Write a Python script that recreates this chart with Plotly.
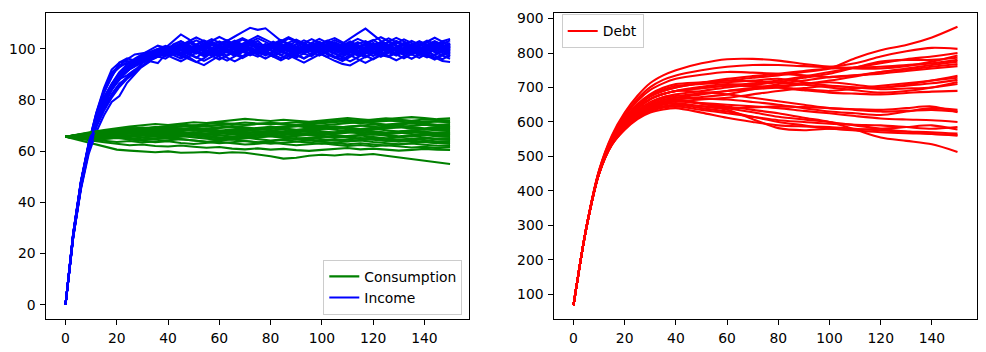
import plotly.graph_objects as go

# ---------------- data ----------------
t_income = list(range(0, 151, 3))          # 51 points
t_consumption = list(range(0, 151, 5))     # 31 points
t_debt = [0, 5, 10, 15, 20, 25, 30, 35, 40, 50, 60, 70, 80, 90, 100, 110, 120, 130, 140, 150]

x_ticks = [0, 20, 40, 60, 80, 100, 120, 140]
y_ticks_left = [0, 20, 40, 60, 80, 100]
y_ticks_right = [100, 200, 300, 400, 500, 600, 700, 800, 900]

income = [
    [0, 27.8, 48.1, 62.0, 73.5, 81.2, 86.0, 90.5, 91.8, 95.1, 97.4, 96.2, 99.0, 98.1, 100.3,
     101.2, 99.4, 98.1, 100.6, 102.3, 101.0, 99.2, 97.8, 99.5, 101.7, 103.1, 100.4, 98.9, 99.8, 101.5, 100.2, 98.0, 97.1,
     99.3, 100.9, 102.4, 101.1, 99.6, 98.4, 100.0, 101.8, 100.5, 98.7, 99.9, 102.1, 100.8, 99.0, 97.9, 99.6, 101.3, 100.4],
    [0, 26.5, 45.8, 60.2, 70.9, 78.1, 84.2, 88.0, 91.5, 93.0, 94.9, 97.3, 96.8, 99.5, 100.9,
     99.7, 97.9, 96.5, 98.8, 100.1, 102.0, 103.4, 101.2, 99.8, 98.1, 96.9, 98.5, 100.7, 101.9, 100.3, 98.6, 99.4, 101.6,
     102.8, 101.0, 99.1, 97.6, 98.9, 100.6, 102.2, 103.5, 101.4, 99.6, 98.2, 99.7, 101.9, 100.6, 98.8, 97.5, 98.9, 100.2],
    [0, 27.4, 47.6, 62.5, 74.5, 83.5, 90.8, 93.2, 95.9, 97.8, 98.4, 98.7, 99.9, 98.6, 101.7,
     103.0, 101.4, 99.8, 100.9, 102.6, 101.3, 103.2, 104.8, 106.5, 108.2, 107.4, 108.0, 105.6, 103.1, 101.8, 100.2, 99.1, 100.8,
     102.3, 101.0, 99.4, 98.6, 100.3, 101.9, 103.0, 101.5, 99.9, 98.4, 100.1, 101.6, 100.2, 98.7, 99.8, 101.4, 100.0, 98.9],
    [0, 26.2, 45.1, 58.8, 67.5, 74.0, 79.2, 81.5, 86.7, 90.2, 93.4, 95.7, 97.0, 96.2, 98.1,
     97.4, 96.0, 94.8, 96.3, 98.5, 97.6, 99.3, 100.8, 99.1, 97.7, 98.9, 100.6, 99.2, 97.4, 96.1, 97.8, 99.5, 101.2,
     100.0, 98.3, 97.0, 95.9, 97.5, 99.1, 100.4, 99.0, 97.6, 96.8, 98.5, 100.1, 99.3, 97.9, 96.6, 97.8, 99.4, 98.2],
    [0, 27.9, 47.9, 62.8, 75.0, 84.6, 91.9, 94.6, 95.2, 94.9, 97.1, 98.4, 97.2, 99.6, 98.9,
     100.8, 102.7, 101.1, 99.3, 97.9, 99.2, 100.9, 102.5, 101.3, 99.7, 98.2, 99.9, 101.6, 103.0, 101.8, 100.1, 98.7, 99.6,
     101.3, 103.1, 104.2, 102.5, 100.8, 99.4, 98.0, 99.5, 101.1, 102.6, 101.2, 99.5, 98.1, 99.7, 101.4, 102.8, 101.5, 100.3],
    [0, 26.8, 46.2, 60.9, 71.0, 78.8, 84.1, 88.6, 91.2, 93.8, 95.1, 95.9, 98.2, 97.4, 99.3,
     98.0, 99.6, 101.2, 100.0, 98.3, 96.9, 95.4, 97.1, 98.8, 100.4, 99.1, 97.6, 98.9, 100.6, 102.1, 100.7, 99.2, 97.8,
     99.4, 101.0, 100.1, 98.5, 97.2, 98.7, 100.3, 99.0, 97.7, 99.2, 100.8, 102.3, 101.0, 99.5, 98.2, 99.8, 101.4, 99.7],
    [0, 27.3, 47.2, 61.7, 72.6, 80.9, 86.3, 90.9, 93.8, 96.2, 97.9, 99.5, 101.2, 100.4, 103.1,
     105.6, 103.8, 101.5, 99.7, 101.2, 102.9, 101.4, 99.9, 101.6, 103.3, 102.0, 100.4, 99.0, 100.7, 102.4, 103.6, 102.1, 100.5,
     99.1, 100.6, 102.2, 101.0, 99.3, 97.9, 99.6, 101.3, 102.7, 101.3, 99.8, 98.4, 100.0, 101.7, 103.2, 101.9, 100.4, 102.1],
    [0, 26.9, 46.5, 60.7, 71.2, 78.5, 84.6, 88.2, 89.6, 91.8, 93.0, 95.1, 94.4, 97.8, 96.4,
     95.1, 96.8, 94.9, 93.6, 95.5, 97.3, 98.9, 97.4, 99.1, 100.6, 99.0, 97.3, 98.8, 100.4, 99.1, 97.6, 96.3, 97.9,
     99.5, 98.0, 96.6, 95.2, 96.9, 98.5, 100.2, 98.7, 97.4, 98.9, 100.5, 99.2, 97.7, 96.5, 98.1, 99.7, 98.4, 97.0],
    [0, 27.5, 47.5, 61.9, 72.1, 79.8, 85.8, 89.9, 92.6, 94.7, 96.5, 97.6, 98.9, 99.8, 99.2,
     100.4, 101.9, 103.3, 102.0, 100.2, 98.8, 100.5, 102.1, 103.6, 102.2, 100.6, 99.1, 100.7, 102.5, 104.0, 102.7, 101.0, 99.6,
     101.2, 102.8, 101.5, 99.8, 98.5, 100.1, 101.7, 103.2, 104.5, 102.9, 101.3, 99.9, 101.5, 103.0, 101.6, 100.1, 101.8, 103.3],
    [0, 27.0, 46.6, 61.0, 71.5, 79.0, 84.5, 88.8, 91.9, 93.6, 95.5, 96.7, 97.9, 97.1, 98.5,
     99.8, 98.4, 100.0, 101.6, 100.2, 98.6, 97.3, 98.9, 100.5, 99.1, 97.6, 96.2, 97.8, 99.4, 101.0, 99.6, 98.1, 99.7,
     98.2, 96.8, 95.3, 94.1, 93.5, 95.2, 97.0, 98.6, 100.1, 98.7, 97.3, 98.9, 100.6, 99.1, 97.6, 96.3, 97.9, 99.5],
    [0, 28.1, 48.4, 63.1, 74.8, 83.9, 89.2, 93.6, 94.1, 95.5, 96.9, 98.0, 99.6, 100.7, 99.5,
     98.2, 99.8, 101.5, 103.0, 101.7, 100.0, 98.5, 100.1, 101.8, 100.3, 98.7, 100.3, 102.0, 100.5, 98.9, 97.5, 99.1, 100.8,
     102.4, 101.0, 99.5, 101.2, 102.9, 101.4, 99.8, 98.3, 99.9, 101.6, 103.1, 101.7, 100.2, 98.8, 100.4, 102.0, 100.6, 101.9],
    [0, 26.7, 46.0, 60.4, 70.6, 78.3, 83.8, 88.3, 91.0, 93.9, 95.0, 96.6, 97.5, 98.9, 97.9,
     99.3, 100.9, 99.4, 97.9, 99.5, 101.1, 102.6, 101.2, 99.6, 98.1, 99.7, 101.4, 100.0, 98.5, 100.2, 101.8, 103.3, 101.9,
     100.4, 101.9, 103.4, 102.0, 104.1, 106.0, 107.9, 105.4, 103.1, 101.5, 100.0, 101.6, 103.1, 101.7, 100.2, 98.7, 100.3, 101.8],
    [0, 27.6, 47.4, 61.6, 72.3, 80.1, 85.6, 89.6, 92.4, 94.5, 96.1, 97.2, 98.4, 99.1, 98.4,
     97.1, 98.7, 100.3, 98.8, 97.2, 95.8, 97.4, 99.0, 100.6, 102.1, 100.7, 99.2, 97.7, 96.3, 97.9, 99.6, 101.2, 99.8,
     98.3, 96.9, 98.5, 100.2, 101.8, 100.3, 98.7, 97.2, 98.8, 100.4, 99.0, 97.5, 96.1, 97.7, 99.3, 100.9, 99.5, 98.0],
    [0, 26.4, 45.5, 59.7, 69.4, 75.8, 80.9, 85.1, 88.3, 90.6, 93.4, 95.4, 96.9, 98.3, 99.7,
     101.0, 102.5, 101.0, 99.4, 98.0, 99.6, 101.3, 102.8, 104.2, 102.8, 101.3, 99.8, 101.4, 103.0, 104.5, 103.1, 101.6, 100.1,
     101.7, 103.2, 101.8, 100.3, 98.8, 100.4, 102.0, 100.5, 99.0, 100.6, 102.2, 103.7, 102.3, 100.8, 99.3, 100.9, 102.5, 101.0],
    [0, 27.2, 47.0, 61.4, 71.6, 79.6, 85.3, 89.3, 91.6, 94.0, 95.6, 97.0, 98.0, 98.7, 100.1,
     101.6, 100.1, 98.6, 97.1, 98.7, 100.3, 101.9, 100.4, 98.9, 97.4, 98.9, 100.5, 102.1, 100.6, 99.1, 97.6, 96.2, 97.8,
     99.4, 101.0, 102.6, 101.1, 99.6, 98.1, 96.7, 98.2, 99.8, 101.4, 100.0, 98.5, 100.1, 101.7, 100.3, 98.8, 97.4, 99.0],
    [0, 27.7, 47.8, 62.3, 73.0, 80.3, 86.1, 90.0, 93.1, 95.3, 96.0, 98.1, 99.3, 100.0, 99.0,
     100.6, 99.1, 100.7, 102.3, 103.8, 102.4, 100.9, 99.4, 101.0, 102.6, 104.1, 102.7, 101.2, 99.7, 101.3, 102.9, 101.5, 100.0,
     98.5, 100.1, 101.7, 100.2, 98.7, 97.3, 98.9, 100.5, 102.1, 100.7, 99.2, 97.8, 99.4, 101.0, 102.5, 101.1, 99.6, 101.2],
    [0, 26.6, 46.3, 60.6, 71.1, 78.9, 84.8, 88.9, 91.4, 93.4, 95.3, 96.4, 97.3, 98.5, 99.6,
     98.3, 96.9, 98.4, 100.0, 101.6, 100.1, 98.6, 97.2, 98.8, 100.4, 102.0, 100.5, 99.0, 97.5, 99.1, 100.7, 102.3, 100.9,
     99.4, 97.9, 96.5, 98.1, 99.7, 101.3, 99.8, 98.3, 96.9, 98.5, 100.1, 101.6, 100.1, 98.6, 97.1, 95.8, 97.4, 96.1],
    [0, 27.4, 47.3, 61.8, 72.4, 80.4, 86.0, 89.7, 92.8, 95.0, 96.7, 97.8, 98.6, 100.2, 101.3,
     102.9, 101.4, 99.9, 101.5, 103.1, 104.6, 103.2, 101.7, 100.2, 101.8, 100.3, 98.8, 100.4, 102.0, 100.6, 99.1, 100.7, 102.3,
     103.9, 102.4, 100.9, 99.4, 101.0, 102.6, 101.1, 99.7, 101.3, 102.8, 104.3, 102.9, 101.4, 99.9, 101.5, 103.0, 101.6, 100.1],
    [0, 26.3, 45.9, 60.1, 69.8, 76.4, 81.7, 85.9, 89.0, 91.5, 94.4, 96.3, 97.1, 97.9, 98.1,
     99.6, 98.1, 96.7, 95.3, 96.9, 98.5, 100.1, 98.6, 97.1, 98.7, 100.3, 101.9, 100.4, 98.9, 97.4, 96.0, 94.6, 96.2,
     97.8, 99.4, 98.0, 96.5, 95.1, 96.7, 98.3, 99.9, 98.4, 96.9, 95.5, 97.1, 98.7, 100.3, 98.8, 97.3, 95.9, 97.5],
    [0, 27.9, 48.0, 62.6, 74.1, 83.0, 90.1, 92.7, 94.8, 95.6, 97.2, 98.5, 99.5, 98.3, 99.9,
     101.4, 103.0, 104.4, 103.0, 101.5, 100.0, 101.6, 103.2, 101.7, 100.2, 98.7, 100.3, 101.9, 103.5, 102.0, 100.5, 99.0, 100.6,
     102.2, 100.7, 99.2, 100.8, 102.4, 103.9, 102.5, 101.0, 99.5, 101.1, 102.7, 101.2, 99.7, 98.2, 99.8, 101.4, 103.0, 103.8],
    [0, 27.1, 46.8, 61.2, 71.9, 79.3, 84.9, 89.0, 92.2, 94.3, 95.9, 96.8, 97.6, 99.4, 98.7,
     97.3, 98.9, 100.5, 99.0, 97.5, 99.1, 100.7, 102.2, 100.7, 99.2, 97.8, 99.4, 101.0, 99.5, 98.0, 96.6, 98.2, 99.8,
     101.4, 99.9, 98.4, 96.9, 98.5, 100.1, 101.7, 100.2, 98.7, 97.2, 98.8, 100.4, 98.9, 97.4, 99.0, 100.6, 99.1, 97.6],
    [0, 26.9, 46.4, 60.8, 71.4, 78.7, 84.4, 88.4, 91.3, 93.7, 95.2, 96.5, 98.3, 99.2, 100.6,
     102.1, 100.6, 99.1, 97.6, 99.2, 100.8, 99.3, 97.8, 96.4, 98.0, 99.6, 101.2, 102.8, 101.3, 99.8, 98.3, 99.9, 101.5,
     100.0, 98.5, 100.1, 101.7, 100.2, 98.7, 97.3, 95.9, 97.5, 99.1, 100.7, 99.2, 97.7, 99.3, 100.9, 102.4, 100.9, 99.4],
    [0, 27.6, 47.7, 62.2, 73.9, 82.7, 88.9, 94.6, 96.3, 95.4, 97.6, 98.8, 100.1, 101.1, 100.0,
     98.5, 100.1, 101.7, 103.3, 101.8, 100.3, 98.8, 100.4, 102.0, 103.6, 105.0, 103.6, 102.1, 100.6, 99.1, 100.7, 102.3, 103.8,
     102.3, 100.8, 99.3, 100.9, 102.5, 101.0, 99.5, 101.1, 102.7, 104.1, 102.6, 101.1, 99.6, 101.2, 102.8, 104.3, 102.8, 102.0],
    [0, 26.8, 46.1, 60.5, 70.0, 77.1, 82.3, 86.4, 88.5, 90.8, 94.8, 96.1, 97.4, 98.0, 97.6,
     96.2, 97.8, 99.4, 101.0, 99.5, 98.0, 96.5, 95.1, 96.7, 98.3, 99.9, 98.4, 96.9, 95.5, 97.1, 98.7, 100.3, 98.8,
     97.3, 98.9, 100.5, 99.0, 97.5, 96.0, 94.5, 96.1, 97.7, 99.3, 97.8, 96.3, 97.9, 99.5, 98.0, 96.5, 95.2, 94.8],
    [0, 27.3, 47.1, 61.5, 72.0, 79.7, 85.4, 89.5, 92.3, 94.6, 96.3, 97.4, 98.6, 99.7, 101.0,
     99.5, 98.0, 99.6, 101.2, 102.8, 101.3, 99.8, 98.3, 99.9, 101.5, 100.0, 98.5, 97.0, 98.6, 100.2, 101.8, 100.3, 98.8,
     100.4, 102.0, 100.5, 99.0, 97.5, 99.1, 100.7, 102.3, 100.8, 99.3, 97.8, 99.4, 101.0, 102.6, 101.1, 99.6, 101.2, 100.5],
]

consumption = [
    [65.6, 64.4, 63.1, 62.0, 60.6, 60.2, 60.0, 59.6, 59.9, 59.4, 59.5, 59.7, 59.2, 59.6, 59.4, 58.8, 58.0, 57.1, 57.4, 58.2, 58.6, 58.3, 58.8, 58.5, 58.9, 58.2, 57.6, 57.0, 56.4, 55.7, 55.0],
    [65.6, 65.0, 64.2, 63.5, 62.9, 62.3, 62.6, 62.0, 61.8, 62.2, 61.7, 61.3, 61.6, 61.0, 60.7, 61.1, 60.6, 60.9, 60.4, 60.1, 60.5, 60.8, 61.2, 60.7, 61.0, 60.6, 60.2, 60.5, 60.9, 60.6, 60.5],
    [65.6, 65.9, 65.3, 64.8, 65.2, 64.6, 64.0, 63.5, 63.9, 63.2, 62.8, 63.3, 63.7, 63.1, 62.6, 62.9, 63.4, 62.8, 62.3, 62.7, 63.1, 62.5, 62.0, 62.4, 61.9, 62.3, 61.8, 61.4, 61.7, 61.2, 61.5],
    [65.6, 65.2, 64.7, 64.1, 63.6, 64.0, 63.4, 63.8, 64.3, 64.7, 64.2, 63.6, 63.1, 63.5, 64.0, 63.4, 62.9, 63.3, 63.8, 64.2, 63.7, 63.2, 62.7, 63.1, 62.6, 62.2, 62.6, 63.0, 62.5, 62.1, 62.0],
    [65.6, 66.1, 66.6, 66.0, 65.5, 65.9, 65.3, 64.8, 65.2, 64.7, 64.1, 63.7, 64.2, 64.6, 64.0, 63.5, 63.9, 64.4, 63.8, 63.3, 62.9, 63.4, 63.8, 64.2, 63.6, 63.1, 62.7, 63.2, 63.6, 63.1, 62.8],
    [65.6, 65.3, 65.8, 66.3, 65.7, 65.2, 64.6, 65.0, 65.5, 65.9, 65.4, 64.9, 64.4, 64.8, 65.3, 64.7, 64.2, 64.6, 65.1, 64.5, 64.0, 64.4, 63.9, 64.3, 64.8, 64.2, 63.7, 64.1, 63.6, 63.2, 63.5],
    [65.6, 66.2, 65.7, 65.1, 65.6, 66.0, 66.5, 66.0, 65.4, 65.8, 66.3, 65.7, 65.1, 64.6, 65.0, 65.5, 65.9, 65.3, 64.8, 65.2, 64.7, 64.2, 64.6, 65.1, 64.5, 64.0, 64.4, 64.9, 64.3, 63.8, 64.0],
    [65.6, 64.9, 64.5, 65.0, 65.4, 64.8, 64.3, 64.7, 65.2, 65.6, 66.1, 65.5, 65.0, 65.4, 65.9, 66.3, 65.8, 65.2, 64.7, 65.1, 65.6, 66.0, 65.4, 64.9, 65.3, 64.8, 64.3, 64.7, 65.1, 64.6, 64.5],
    [65.6, 66.0, 66.5, 67.0, 66.4, 66.9, 67.3, 66.8, 66.2, 66.7, 66.1, 65.6, 66.0, 66.5, 66.0, 65.4, 65.8, 66.3, 66.7, 66.2, 65.7, 65.2, 65.6, 66.1, 65.5, 65.0, 65.4, 65.9, 65.3, 64.8, 65.0],
    [65.6, 65.1, 65.5, 66.0, 66.4, 65.9, 65.4, 65.8, 66.3, 66.7, 67.2, 66.6, 66.1, 65.6, 66.0, 66.5, 66.0, 65.5, 65.9, 66.4, 66.8, 66.3, 65.7, 66.2, 66.6, 66.0, 65.5, 65.9, 66.3, 65.7, 65.5],
    [65.6, 66.3, 66.9, 66.4, 65.8, 66.2, 66.7, 67.1, 66.6, 66.0, 66.5, 66.9, 67.4, 66.8, 66.3, 66.7, 67.2, 66.6, 66.1, 66.5, 66.0, 65.5, 65.9, 66.4, 66.8, 66.3, 65.8, 66.2, 66.7, 66.2, 66.0],
    [65.6, 65.0, 65.4, 64.9, 65.3, 65.8, 66.2, 65.7, 66.1, 66.6, 67.0, 66.5, 67.0, 67.4, 66.9, 67.3, 67.8, 67.2, 66.7, 67.1, 66.6, 67.0, 67.5, 66.9, 66.4, 66.8, 67.3, 66.7, 66.2, 66.6, 66.4],
    [65.6, 66.4, 66.0, 66.5, 67.0, 67.5, 67.0, 66.4, 66.9, 67.3, 66.8, 66.2, 66.7, 67.1, 67.6, 67.0, 66.5, 66.9, 67.4, 67.8, 67.3, 66.7, 67.2, 67.6, 67.1, 66.6, 67.0, 67.5, 66.9, 66.5, 66.8],
    [65.6, 65.2, 65.7, 66.1, 65.6, 66.0, 66.5, 66.9, 67.4, 66.9, 67.3, 67.8, 67.2, 66.7, 67.1, 67.6, 68.0, 67.5, 67.9, 68.4, 67.8, 67.3, 67.7, 68.2, 67.6, 67.1, 67.5, 68.0, 67.4, 66.9, 67.2],
    [65.6, 66.1, 66.6, 67.1, 67.6, 67.1, 67.6, 68.0, 67.5, 67.0, 67.4, 66.9, 67.3, 67.8, 68.2, 67.7, 67.1, 67.6, 68.0, 67.5, 67.0, 67.4, 67.9, 68.3, 67.8, 67.3, 67.7, 68.2, 67.6, 67.2, 67.6],
    [65.6, 65.4, 65.9, 66.3, 66.8, 67.2, 66.7, 67.1, 67.6, 68.0, 68.5, 67.9, 67.4, 67.8, 68.3, 68.7, 68.2, 67.6, 68.1, 68.5, 69.0, 68.4, 67.9, 68.3, 68.8, 68.2, 67.7, 68.1, 68.6, 68.1, 68.0],
    [65.6, 66.0, 66.5, 67.0, 66.5, 67.0, 67.4, 67.9, 68.3, 67.8, 68.2, 68.7, 68.1, 67.6, 68.0, 68.5, 68.9, 68.4, 67.8, 68.3, 68.7, 69.2, 68.6, 68.1, 68.5, 69.0, 69.4, 68.9, 68.4, 68.8, 68.5],
    [65.6, 66.3, 66.9, 67.5, 68.0, 67.5, 68.0, 68.4, 67.9, 68.3, 68.8, 68.2, 67.7, 68.1, 68.6, 69.0, 69.5, 68.9, 68.4, 68.8, 69.3, 69.7, 69.2, 68.6, 69.1, 69.5, 70.0, 69.4, 68.9, 69.3, 69.0],
    [65.6, 65.8, 66.3, 66.8, 67.3, 67.8, 68.3, 67.8, 68.2, 68.7, 69.1, 68.6, 68.0, 68.5, 68.9, 68.4, 68.9, 69.3, 69.8, 69.2, 68.7, 69.1, 69.6, 70.0, 69.5, 69.0, 69.4, 69.9, 70.3, 69.8, 69.5],
    [65.6, 66.5, 67.2, 67.9, 68.4, 68.9, 68.3, 68.8, 69.2, 68.7, 68.1, 68.6, 69.0, 69.5, 68.9, 68.4, 68.8, 69.3, 69.7, 70.2, 69.6, 69.1, 69.5, 70.0, 70.4, 69.9, 70.4, 70.8, 70.3, 69.8, 70.0],
    [65.6, 65.9, 66.4, 66.0, 66.5, 67.0, 67.4, 67.9, 68.4, 68.9, 68.4, 68.8, 69.3, 69.8, 69.3, 68.8, 69.2, 69.7, 70.1, 69.6, 70.0, 70.5, 70.9, 71.4, 70.9, 70.4, 70.8, 71.3, 70.8, 70.3, 70.5],
    [65.6, 66.3, 67.0, 67.6, 68.2, 68.7, 69.2, 68.8, 69.3, 69.8, 69.4, 69.8, 70.3, 70.7, 70.2, 70.6, 71.0, 70.5, 70.0, 70.4, 70.9, 71.3, 71.8, 71.3, 71.7, 72.1, 71.6, 71.1, 71.5, 71.8, 71.0],
    [65.6, 66.5, 67.3, 67.0, 67.7, 68.3, 68.9, 69.4, 69.0, 69.6, 70.1, 69.7, 70.2, 70.6, 70.2, 70.7, 71.1, 70.7, 70.3, 70.8, 71.3, 71.7, 71.3, 70.9, 71.4, 71.8, 72.2, 71.7, 71.2, 71.6, 71.5],
    [65.6, 66.2, 67.0, 67.8, 68.5, 69.1, 68.7, 69.3, 69.9, 70.4, 70.0, 70.6, 71.1, 70.7, 71.2, 70.8, 70.4, 70.9, 71.4, 71.0, 71.5, 71.9, 72.3, 71.9, 72.4, 72.8, 72.3, 71.9, 72.4, 72.1, 72.0],
    [65.6, 66.6, 67.5, 68.3, 69.0, 69.6, 70.1, 70.6, 70.2, 70.8, 71.3, 71.0, 71.6, 72.1, 72.6, 72.2, 71.8, 72.3, 71.9, 71.5, 72.0, 72.4, 72.9, 72.5, 72.1, 72.6, 73.0, 73.3, 72.9, 72.5, 72.8],
]

debt = [
    [68, 293, 456, 551, 609, 652, 681, 699, 710, 715, 720, 728, 735, 745, 755, 785, 808, 823, 845, 876],
    [68, 293, 459, 557, 620, 667, 701, 722, 735, 750, 760, 765, 765, 762, 760, 770, 790, 805, 815, 812],
    [68, 292, 454, 546, 600, 639, 666, 681, 690, 698, 705, 712, 720, 732, 745, 758, 770, 782, 790, 800],
    [68, 293, 460, 561, 627, 676, 713, 735, 750, 770, 782, 783, 778, 768, 760, 755, 755, 762, 775, 793],
    [68, 292, 453, 543, 595, 633, 658, 672, 680, 690, 700, 708, 715, 728, 740, 758, 775, 780, 780, 786],
    [68, 292, 455, 548, 604, 645, 674, 690, 700, 713, 725, 733, 740, 748, 755, 758, 760, 765, 770, 780],
    [68, 292, 452, 542, 593, 630, 654, 668, 675, 683, 690, 695, 700, 710, 720, 732, 745, 755, 765, 775],
    [68, 293, 458, 554, 615, 661, 693, 712, 725, 737, 745, 743, 740, 735, 730, 735, 745, 752, 760, 768],
    [68, 292, 451, 539, 588, 624, 646, 658, 665, 672, 680, 695, 710, 720, 730, 735, 740, 748, 755, 762],
    [68, 292, 456, 549, 606, 649, 678, 694, 705, 710, 715, 720, 725, 715, 705, 700, 700, 708, 720, 734],
    [68, 292, 454, 546, 600, 639, 666, 681, 690, 698, 705, 703, 700, 695, 690, 697, 705, 712, 720, 728],
    [68, 292, 452, 540, 590, 627, 650, 663, 670, 680, 690, 698, 705, 710, 715, 708, 700, 705, 712, 722],
    [68, 292, 455, 548, 604, 645, 674, 690, 700, 712, 720, 718, 715, 708, 700, 692, 685, 690, 700, 716],
    [68, 292, 451, 538, 586, 621, 642, 654, 660, 665, 670, 680, 690, 698, 705, 700, 695, 697, 700, 710],
    [68, 292, 454, 546, 600, 639, 666, 681, 690, 702, 710, 705, 700, 692, 685, 682, 680, 684, 688, 690],
    [68, 292, 452, 540, 590, 627, 650, 663, 670, 668, 665, 658, 650, 640, 630, 625, 620, 630, 640, 635],
    [68, 291, 450, 535, 581, 614, 635, 645, 650, 646, 640, 642, 645, 643, 640, 635, 630, 632, 635, 630],
    [68, 292, 454, 546, 600, 639, 666, 681, 690, 687, 680, 670, 660, 650, 640, 637, 635, 640, 645, 628],
    [68, 292, 451, 538, 586, 621, 642, 654, 660, 655, 650, 645, 640, 632, 625, 617, 610, 607, 605, 600],
    [68, 291, 450, 534, 579, 611, 631, 641, 645, 635, 625, 615, 605, 600, 595, 592, 590, 585, 580, 585],
    [68, 291, 450, 535, 581, 614, 635, 645, 650, 640, 630, 615, 600, 590, 580, 578, 580, 585, 590, 578],
    [68, 291, 449, 533, 577, 608, 627, 636, 640, 627, 612, 600, 590, 587, 585, 580, 575, 572, 570, 566],
    [68, 292, 451, 539, 588, 624, 646, 658, 665, 653, 640, 628, 615, 607, 600, 590, 580, 572, 565, 562],
    [68, 292, 451, 537, 584, 618, 638, 650, 655, 645, 635, 608, 582, 576, 580, 575, 570, 567, 565, 560],
    [68, 292, 451, 538, 586, 621, 642, 654, 660, 653, 645, 635, 625, 612, 600, 578, 555, 545, 535, 513],
]

# ---------------- figure ----------------
W, H = 986, 352
LW = 2.08
FONT = dict(family="DejaVu Sans, Liberation Sans, sans-serif", size=13.9, color="black")

fig = go.Figure()

for i in range(len(income)):
    c = consumption[i]
    y = income[i]
    fig.add_trace(go.Scatter(
        x=t_consumption[:len(c)], y=c, mode="lines",
        line=dict(color="green", width=LW),
        name="Consumption", showlegend=(i == 0), legend="legend",
        xaxis="x", yaxis="y", hoverinfo="skip"))
    fig.add_trace(go.Scatter(
        x=t_income[:len(y)], y=y, mode="lines",
        line=dict(color="blue", width=LW),
        name="Income", showlegend=(i == 0), legend="legend",
        xaxis="x", yaxis="y", hoverinfo="skip"))

for i, d in enumerate(debt):
    fig.add_trace(go.Scatter(
        x=t_debt[:len(d)], y=d, mode="lines",
        line=dict(color="red", width=LW, shape="spline", smoothing=0.8),
        name="Debt", showlegend=(i == 0), legend="legend2",
        xaxis="x2", yaxis="y2", hoverinfo="skip"))

axis_common = dict(
    showline=True, linecolor="black", linewidth=1.1, mirror=True,
    ticks="outside", ticklen=4.9, tickwidth=1.1, tickcolor="black",
    showgrid=False, zeroline=False, tickfont=FONT, ticklabelstandoff=2,
)

y_top = 1 - 10.3 / H
y_bot = 1 - 318.3 / H

fig.update_layout(
    width=W, height=H,
    margin=dict(l=0, r=0, t=0, b=0),
    paper_bgcolor="white", plot_bgcolor="white",
    font=FONT,
    xaxis=dict(domain=[46.3 / W, 469.3 / W], range=[-7.5, 157.5],
               tickvals=x_ticks, anchor="y", **axis_common),
    yaxis=dict(domain=[y_bot, y_top], range=[-5.42, 113.9],
               tickvals=y_ticks_left, anchor="x", **axis_common),
    xaxis2=dict(domain=[554.3 / W, 976.7 / W], range=[-7.5, 157.5],
                tickvals=x_ticks, anchor="y2", **axis_common),
    yaxis2=dict(domain=[y_bot, y_top], range=[29.2, 915.5],
                tickvals=y_ticks_right, anchor="x2", **axis_common),
    legend=dict(x=462.3 / W, xanchor="right", y=1 - 314.5 / H, yanchor="bottom",
                bgcolor="rgba(255,255,255,0.8)", bordercolor="#cccccc", borderwidth=1,
                font=FONT, tracegroupgap=0),
    legend2=dict(x=561.7 / W, xanchor="left", y=1 - 11.5 / H, yanchor="top",
                 bgcolor="rgba(255,255,255,0.8)", bordercolor="#cccccc", borderwidth=1,
                 font=FONT),
    showlegend=True,
)

fig.write_html("out.html")
